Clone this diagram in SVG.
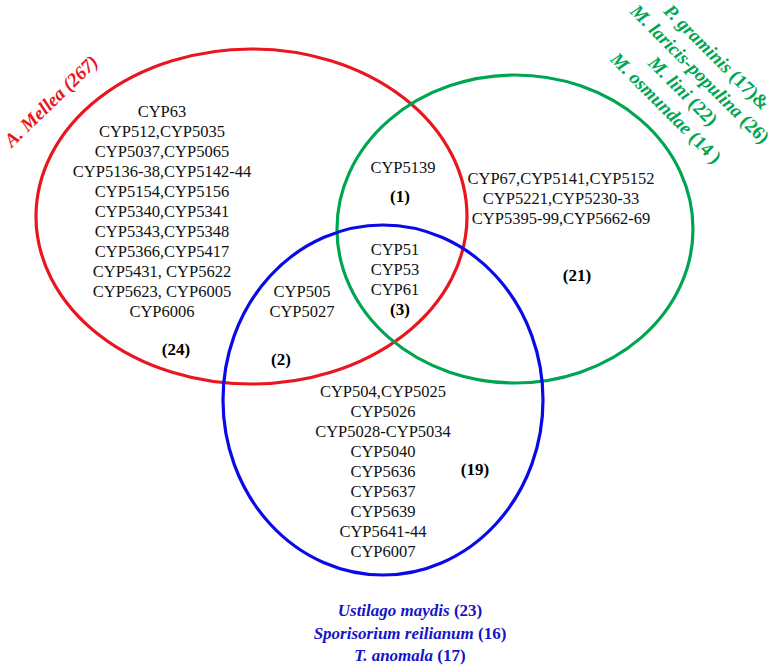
<svg xmlns="http://www.w3.org/2000/svg" width="775" height="670" viewBox="0 0 775 670">
<style>
  .bg{fill:#ffffff}
  .ring{fill:none;stroke-width:3.2}
  .red{stroke:#e8161e}
  .green{stroke:#00a551}
  .blue{stroke:#0a0ae6}
  text{font-family:'Liberation Serif','Times New Roman',Tinos,'DejaVu Serif',serif}
  .t{font-size:16.5px;fill:#111;text-anchor:middle}
  .n{font-size:17px;font-weight:bold;fill:#000;text-anchor:middle}
  .lab{font-weight:bold;text-anchor:middle}
  .it{font-style:italic}
</style>
<rect class="bg" x="0" y="0" width="775" height="670"/>

<g id="set-armillaria">
  <ellipse class="ring red" cx="251.5" cy="216.5" rx="215.5" ry="167.5"/>
</g>
<g id="set-rusts">
  <ellipse class="ring green" cx="515" cy="229" rx="178" ry="154"/>
</g>
<g id="set-smuts">
  <ellipse class="ring blue" cx="383" cy="400" rx="160" ry="175"/>
</g>

<g id="connectors"></g>

<g id="region-a-only">
  <text class="t" x="162" y="117">CYP63</text>
  <text class="t" x="162" y="137">CYP512,CYP5035</text>
  <text class="t" x="162" y="157">CYP5037,CYP5065</text>
  <text class="t" x="162" y="177">CYP5136-38,CYP5142-44</text>
  <text class="t" x="162" y="197">CYP5154,CYP5156</text>
  <text class="t" x="162" y="217">CYP5340,CYP5341</text>
  <text class="t" x="162" y="237">CYP5343,CYP5348</text>
  <text class="t" x="162" y="257">CYP5366,CYP5417</text>
  <text class="t" x="162" y="277">CYP5431, CYP5622</text>
  <text class="t" x="162" y="297">CYP5623, CYP6005</text>
  <text class="t" x="162" y="317">CYP6006</text>
  <text class="n" x="176" y="355">(24)</text>
</g>

<g id="region-a-rusts">
  <text class="t" x="403" y="173">CYP5139</text>
  <text class="n" x="400" y="202">(1)</text>
</g>

<g id="region-all">
  <text class="t" x="395" y="255">CYP51</text>
  <text class="t" x="395" y="275">CYP53</text>
  <text class="t" x="395" y="295">CYP61</text>
  <text class="n" x="400" y="315">(3)</text>
</g>

<g id="region-a-smuts">
  <text class="t" x="302" y="297">CYP505</text>
  <text class="t" x="302" y="317">CYP5027</text>
  <text class="n" x="281" y="365">(2)</text>
</g>

<g id="region-rusts-only">
  <text class="t" x="561" y="184">CYP67,CYP5141,CYP5152</text>
  <text class="t" x="561" y="204">CYP5221,CYP5230-33</text>
  <text class="t" x="561" y="224">CYP5395-99,CYP5662-69</text>
  <text class="n" x="577" y="281">(21)</text>
</g>

<g id="region-smuts-only">
  <text class="t" x="383" y="397">CYP504,CYP5025</text>
  <text class="t" x="383" y="417">CYP5026</text>
  <text class="t" x="383" y="437">CYP5028-CYP5034</text>
  <text class="t" x="383" y="457">CYP5040</text>
  <text class="t" x="383" y="477">CYP5636</text>
  <text class="t" x="383" y="497">CYP5637</text>
  <text class="t" x="383" y="517">CYP5639</text>
  <text class="t" x="383" y="537">CYP5641-44</text>
  <text class="t" x="383" y="557">CYP6007</text>
  <text class="n" x="475" y="475">(19)</text>
</g>

<g id="label-armillaria" transform="translate(51,101) rotate(-44)">
  <text class="lab it" x="0" y="6.5" font-size="19" fill="#e8161e">A. Mellea (267)</text>
</g>

<g id="label-rusts" transform="translate(717,57) rotate(45)" fill="#00a551" font-size="19">
  <text class="lab" x="0" y="6.5"><tspan class="it">P. graminis</tspan> (17)&amp;</text>
  <text class="lab" x="0" y="30.5"><tspan class="it">M. laricis-populina</tspan> (26)</text>
  <text class="lab" x="0" y="54.5"><tspan class="it">M. lini</tspan> (22)</text>
  <text class="lab" x="0" y="78.5"><tspan class="it">M. osmundae</tspan> (14 )</text>
</g>

<g id="label-smuts" fill="#1414c8" font-size="17">
  <text class="lab" x="410" y="616"><tspan class="it">Ustilago maydis</tspan> (23)</text>
  <text class="lab" x="410" y="639"><tspan class="it">Sporisorium reilianum</tspan> (16)</text>
  <text class="lab" x="410" y="661"><tspan class="it">T. anomala</tspan> (17)</text>
</g>
</svg>
